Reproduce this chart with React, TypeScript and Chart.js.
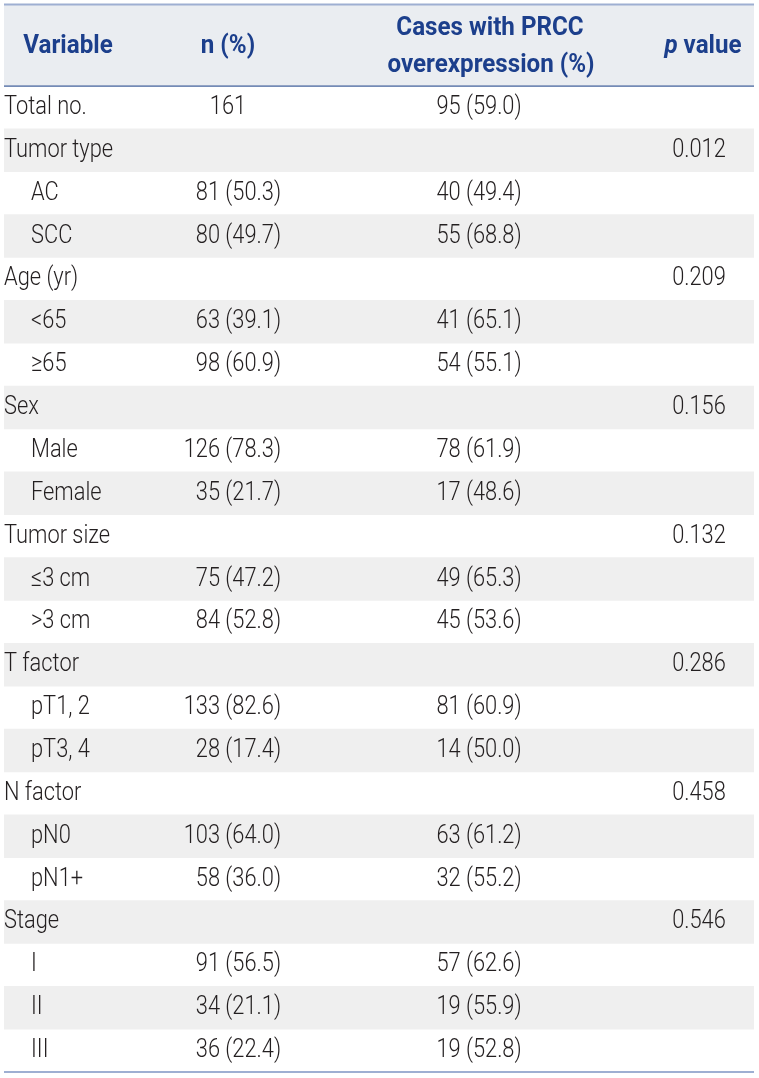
import React, { useEffect, useRef } from "react";
import { Chart, registerables } from "chart.js";

Chart.register(...registerables);

const rowLabels = [
  "Total no.", "Tumor type", "AC", "SCC", "Age (yr)", "<65", "≥65", "Sex", "Male", "Female",
  "Tumor size", "≤3 cm", ">3 cm", "T factor", "pT1, 2", "pT3, 4", "N factor", "pN0", "pN1+",
  "Stage", "I", "II", "III",
];
const indented = [
  false, false, true, true, false, true, true, false, true, true,
  false, true, true, false, true, true, false, true, true,
  false, true, true, true,
];
const nPercent = [
  "161", "", "81 (50.3)", "80 (49.7)", "", "63 (39.1)", "98 (60.9)", "", "126 (78.3)", "35 (21.7)",
  "", "75 (47.2)", "84 (52.8)", "", "133 (82.6)", "28 (17.4)", "", "103 (64.0)", "58 (36.0)",
  "", "91 (56.5)", "34 (21.1)", "36 (22.4)",
];
const prccOver = [
  "95 (59.0)", "", "40 (49.4)", "55 (68.8)", "", "41 (65.1)", "54 (55.1)", "", "78 (61.9)", "17 (48.6)",
  "", "49 (65.3)", "45 (53.6)", "", "81 (60.9)", "14 (50.0)", "", "63 (61.2)", "32 (55.2)",
  "", "57 (62.6)", "19 (55.9)", "19 (52.8)",
];
const pValues = [
  "", "0.012", "", "", "0.209", "", "", "0.156", "", "",
  "0.132", "", "", "0.286", "", "", "0.458", "", "",
  "0.546", "", "", "",
];
const headers = ["Variable", "n (%)", "Cases with PRCC|overexpression (%)", "p value"];

const BODY_FONT = '300 26px Roboto, "Liberation Sans", sans-serif';
const HEAD_FONT = 'bold 26px Roboto, "Liberation Sans", sans-serif';
const HEAD_ITALIC = 'italic bold 26px Roboto, "Liberation Sans", sans-serif';
const SX = 0.84;
const HSX = 0.93;

function drawText(ctx: CanvasRenderingContext2D, text: string, x: number, y: number, align: CanvasTextAlign, font: string, color: string, sx = SX) {
  ctx.save();
  ctx.translate(x, y);
  ctx.scale(sx, 1);
  ctx.font = font;
  ctx.fillStyle = color;
  ctx.textAlign = align;
  ctx.textBaseline = "middle";
  ctx.fillText(text, 0, 0);
  ctx.restore();
}

const tablePlugin = {
  id: "tableText",
  beforeDatasetsDraw(chart: any) {
    const { ctx, chartArea } = chart;
    const { left, right, top } = chartArea;
    ctx.save();
    ctx.fillStyle = "#eaedf1";
    ctx.fillRect(left, 4, right - left, top - 4);
    ctx.restore();
  },
  afterDatasetsDraw(chart: any) {
    const { ctx, chartArea, scales } = chart;
    const { left, right, top, bottom } = chartArea;
    const x = scales.x;
    const y = scales.y;
    const headColor = "#1c3f8c";
    const bodyColor = "#231f20";

    // header
    const hy = top - 40;
    drawText(ctx, headers[0], x.getPixelForValue(64), hy, "center", HEAD_FONT, headColor, HSX);
    drawText(ctx, headers[1], x.getPixelForValue(224), hy, "center", HEAD_FONT, headColor, HSX);
    const [l1, l2] = headers[2].split("|");
    drawText(ctx, l1, x.getPixelForValue(486), hy - 18, "center", HEAD_FONT, headColor, HSX);
    drawText(ctx, l2, x.getPixelForValue(487), hy + 19, "center", HEAD_FONT, headColor, HSX);
    // p value with italic p
    ctx.save();
    ctx.font = HEAD_ITALIC;
    const wp = ctx.measureText("p").width * HSX;
    ctx.font = HEAD_FONT;
    const wv = ctx.measureText(" value").width * HSX;
    ctx.restore();
    const pc = x.getPixelForValue(699);
    const start = pc - (wp + wv) / 2;
    drawText(ctx, "p", start, hy, "left", HEAD_ITALIC, headColor, HSX);
    drawText(ctx, " value", start + wp, hy, "left", HEAD_FONT, headColor, HSX);

    // body
    rowLabels.forEach((lab, i) => {
      const yy = y.getPixelForValue(i);
      drawText(ctx, lab, x.getPixelForValue(indented[i] ? 27 : 0), yy, "left", BODY_FONT, bodyColor);
      if (nPercent[i]) {
        if (i === 0) drawText(ctx, nPercent[i], x.getPixelForValue(224), yy, "center", BODY_FONT, bodyColor);
        else drawText(ctx, nPercent[i], x.getPixelForValue(277), yy, "right", BODY_FONT, bodyColor);
      }
      if (prccOver[i]) drawText(ctx, prccOver[i], x.getPixelForValue(475), yy, "center", BODY_FONT, bodyColor);
      if (pValues[i]) drawText(ctx, pValues[i], x.getPixelForValue(695), yy, "center", BODY_FONT, bodyColor);
    });

    // rules
    ctx.save();
    ctx.fillStyle = "#9eafd2";
    ctx.fillRect(left, 3.5, right - left, 2);
    ctx.fillRect(left, bottom - 1, right - left, 2);
    ctx.fillStyle = "#3a5a98";
    ctx.fillRect(left, top - 0.5, right - left, 1.2);
    ctx.restore();
  },
};

export default function App() {
  const ref = useRef<HTMLCanvasElement | null>(null);
  useEffect(() => {
    document.body.style.margin = "0";
    if (!ref.current) return;
    const stripes = rowLabels.map((_, i) => (i % 2 === 1 ? [0, 750] : null));
    const chart = new Chart(ref.current, {
      type: "bar",
      data: {
        labels: rowLabels,
        datasets: [
          {
            data: stripes as any,
            backgroundColor: "#efefef",
            borderWidth: 0,
            barPercentage: 1,
            categoryPercentage: 1,
          },
        ],
      },
      options: {
        indexAxis: "y",
        responsive: false,
        animation: false,
        layout: { padding: { left: 4, right: 5, top: 86, bottom: 6 } },
        plugins: { legend: { display: false }, tooltip: { enabled: false }, title: { display: false } },
        scales: {
          x: { type: "linear", min: 0, max: 750, display: false, grid: { display: false } },
          y: { type: "category", display: false, offset: true, grid: { display: false } },
        },
      },
      plugins: [tablePlugin],
    });
    return () => chart.destroy();
  }, []);
  return <canvas ref={ref} width={759} height={1078} style={{ display: "block" }} />;
}
